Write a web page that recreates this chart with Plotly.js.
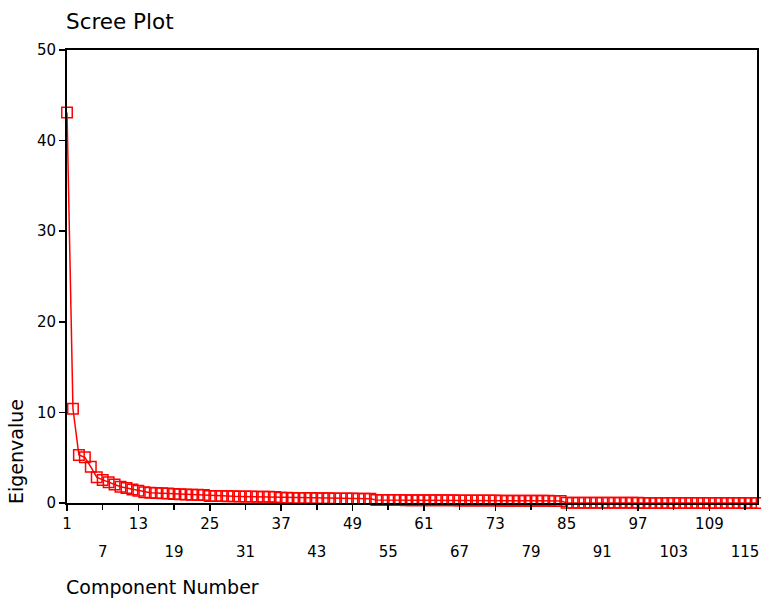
<!DOCTYPE html>
<html>
<head>
<meta charset="utf-8">
<script src="https://cdn.plot.ly/plotly-3.0.1.min.js"></script>
<style>html,body{margin:0;padding:0;background:#fff;}#chart{width:761px;height:598px;}</style>
</head>
<body>
<div id="chart"></div>
<script>
// Component numbers 1..117
const components = [];
for (let i = 1; i <= 117; i++) components.push(i);

// Eigenvalues
const eigenvalues = [
  43.1, 10.4, 5.3, 5.05, 4.0, 2.85, 2.55, 2.3, 2.05, 1.8,
  1.65, 1.5, 1.35, 1.2, 1.12, 1.1, 1.07, 1.04, 1.0, 0.97,
  0.94, 0.92, 0.9, 0.88, 0.78, 0.77, 0.76, 0.75, 0.74, 0.73,
  0.72, 0.71, 0.7, 0.69, 0.68, 0.67, 0.58, 0.57, 0.56, 0.55,
  0.54, 0.54, 0.53, 0.52, 0.52, 0.51, 0.5, 0.5, 0.49, 0.48,
  0.48, 0.47, 0.33, 0.33, 0.32, 0.32, 0.32, 0.31, 0.31, 0.31,
  0.3, 0.3, 0.3, 0.29, 0.29, 0.29, 0.28, 0.28, 0.28, 0.27,
  0.27, 0.27, 0.27, 0.26, 0.26, 0.26, 0.25, 0.25, 0.25, 0.24,
  0.24, 0.24, 0.23, 0.23, 0.02, 0.02, 0.02, 0.02, 0.02, 0.02,
  0.02, 0.02, 0.02, 0.02, 0.02, 0.02, 0.02, 0.01, 0.01, 0.01,
  0.01, 0.01, 0.01, 0.01, 0.01, 0.01, 0.01, 0.01, 0.01, 0.01,
  0.01, 0.01, 0.01, 0.01, 0.01, 0.01, 0.01
];

// Staggered x tick labels: upper row and lower row
const xTicksUpper = [1, 13, 25, 37, 49, 61, 73, 85, 97, 109];
const xTicksLower = [7, 19, 31, 43, 55, 67, 79, 91, 103, 115];
const yTicks = [0, 10, 20, 30, 40, 50];

const FONT = 'DejaVu Sans, Verdana, sans-serif';

const traces = [
  {
    x: components, y: eigenvalues, type: 'scatter', mode: 'lines+markers',
    line: {color: '#ff0000', width: 1.5},
    marker: {symbol: 'square-open', size: 10.5, color: '#ff0000', line: {width: 1.5, color: '#ff0000'}},
    cliponaxis: false, hoverinfo: 'x+y'
  },
  { x: [], y: [], xaxis: 'x2', yaxis: 'y', type: 'scatter', mode: 'markers', showlegend: false }
];

const layout = {
  width: 761, height: 598,
  margin: {l: 67, r: 4, t: 50, b: 95},
  paper_bgcolor: '#ffffff', plot_bgcolor: '#ffffff',
  showlegend: false,
  font: {family: FONT, size: 15, color: '#000'},
  title: {
    text: 'Scree Plot', font: {family: FONT, size: 21.5, color: '#000'},
    xref: 'container', yref: 'container', x: 66/761, xanchor: 'left', y: 1 - 21/598, yanchor: 'middle'
  },
  xaxis: {
    range: [1, 117], showgrid: false, zeroline: false,
    showline: true, linecolor: '#000', linewidth: 2, mirror: true,
    ticks: 'outside', ticklen: 6, tickwidth: 1.5, tickcolor: '#000',
    tickmode: 'array', tickvals: xTicksUpper, ticktext: xTicksUpper.map(String),
    tickfont: {family: FONT, size: 15, color: '#000'}, ticklabelstandoff: 0
  },
  xaxis2: {
    range: [1, 117], overlaying: 'x', anchor: 'y', side: 'bottom',
    showgrid: false, zeroline: false, showline: false,
    ticks: 'outside', ticklen: 6, tickwidth: 1.5, tickcolor: '#000',
    tickmode: 'array', tickvals: xTicksLower, ticktext: xTicksLower.map(String),
    tickfont: {family: FONT, size: 15, color: '#000'}, ticklabelstandoff: 29
  },
  yaxis: {
    range: [0, 50], showgrid: false, zeroline: false,
    showline: true, linecolor: '#000', linewidth: 2, mirror: true,
    ticks: 'outside', ticklen: 6, tickwidth: 1.5, tickcolor: '#000',
    tickmode: 'array', tickvals: yTicks, ticktext: yTicks.map(String),
    tickfont: {family: FONT, size: 15, color: '#000'}
  },
  annotations: [
    {text: 'Component Number', xref: 'paper', yref: 'paper', x: -3/690, xanchor: 'left',
     y: -84/453, yanchor: 'middle', showarrow: false, font: {family: FONT, size: 19, color: '#000'}},
    {text: 'Eigenvalue', xref: 'paper', yref: 'paper', x: -51/690, xanchor: 'center',
     y: (503 - 452)/453, yanchor: 'middle', textangle: -90, showarrow: false,
     font: {family: FONT, size: 19, color: '#000'}}
  ]
};

Plotly.newPlot('chart', traces, layout, {displayModeBar: false, staticPlot: true});
</script>
</body>
</html>
